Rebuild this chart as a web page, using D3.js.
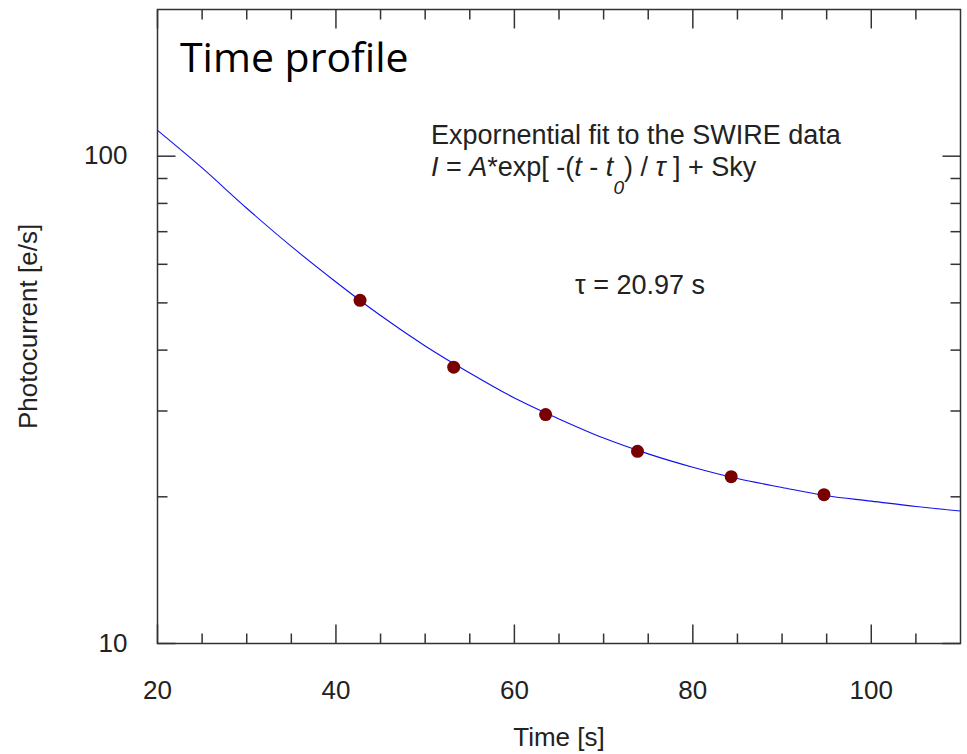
<!DOCTYPE html>
<html>
<head>
<meta charset="utf-8">
<script src="https://cdn.jsdelivr.net/npm/d3@7"></script>
<style>
  body { margin: 0; background: #fff; }
  text { font-family: "Liberation Sans", Arial, sans-serif; fill: #222; }
</style>
</head>
<body>
<svg id="chart" width="967" height="754"></svg>
<script>
// measured points (time [s], photocurrent [e/s])
const pointTimes = [42.7, 53.2, 63.5, 73.8, 84.3, 94.7];
const pointValues = [50.6, 36.9, 29.5, 24.8, 22.0, 20.2];

// fitted curve, every 5 s
const fitTimes = [20, 25, 30, 35, 40, 45, 50, 55, 60, 65, 70, 75, 80, 85, 90, 95, 100, 105, 110];
const fitValues = [113, 94.6, 78.2, 65.3, 55.2, 47.1, 40.8, 35.9, 31.9, 28.9, 26.4, 24.5, 23.0, 21.8, 20.9, 20.1, 19.6, 19.1, 18.7];

const xMajor = [20, 40, 60, 80, 100];
const xMinor = [25, 30, 35, 45, 50, 55, 65, 70, 75, 85, 90, 95, 105];
const yMajor = [10, 100];
const yMinor = [20, 30, 40, 50, 60, 70, 80, 90];

const margin = { top: 9.5, right: 6.5, bottom: 110.5, left: 157.5 };
const width = 967 - margin.left - margin.right,
    height = 754 - margin.top - margin.bottom;

const svg = d3.select("#chart");
const g = svg.append("g")
    .attr("transform", `translate(${margin.left}, ${margin.top})`);

const x = d3.scaleLinear().domain([20, 110]).range([0, width]);
const y = d3.scaleLog().domain([10, 200]).range([height, 0]);

// fit line
const line = d3.line()
    .x((d, i) => x(fitTimes[i]))
    .y(d => y(d))
    .curve(d3.curveMonotoneX);

g.append("path")
    .datum(fitValues)
    .attr("d", line)
    .attr("fill", "none")
    .attr("stroke", "#1010ee")
    .attr("stroke-width", 1.1);

g.selectAll("circle")
    .data(pointValues)
    .join("circle")
    .attr("cx", (d, i) => x(pointTimes[i]))
    .attr("cy", d => y(d))
    .attr("r", 6.5)
    .attr("fill", "#780000");

// ticks, all pointing inwards on four sides
const tickStyle = sel => sel.attr("stroke", "#333").attr("stroke-width", 1.5);
function xTicks(vals, len) {
    g.selectAll(null).data(vals).join("line")
        .attr("x1", d => x(d)).attr("x2", d => x(d))
        .attr("y1", height).attr("y2", height - len).call(tickStyle);
    g.selectAll(null).data(vals).join("line")
        .attr("x1", d => x(d)).attr("x2", d => x(d))
        .attr("y1", 0).attr("y2", len).call(tickStyle);
}
function yTicks(vals, len) {
    g.selectAll(null).data(vals).join("line")
        .attr("x1", 0).attr("x2", len)
        .attr("y1", d => y(d)).attr("y2", d => y(d)).call(tickStyle);
    g.selectAll(null).data(vals).join("line")
        .attr("x1", width).attr("x2", width - len)
        .attr("y1", d => y(d)).attr("y2", d => y(d)).call(tickStyle);
}
xTicks(xMajor, 19);
xTicks(xMinor, 10);
yTicks(yMajor, 18);
yTicks(yMinor, 10);

g.append("rect")
    .attr("width", width).attr("height", height)
    .attr("fill", "none").attr("stroke", "#333").attr("stroke-width", 1.5);

// tick labels
g.selectAll(null).data(xMajor).join("text")
    .attr("x", d => x(d)).attr("y", height + 55)
    .attr("text-anchor", "middle")
    .style("font-size", "26px")
    .text(d => d);

g.selectAll(null).data(yMajor).join("text")
    .attr("x", -30).attr("y", d => y(d) + 8)
    .attr("text-anchor", "end")
    .style("font-size", "26px")
    .text(d => d);

// axis titles
svg.append("text")
    .attr("x", margin.left + width / 2).attr("y", 746)
    .attr("text-anchor", "middle")
    .style("font-size", "26px")
    .text("Time [s]");

svg.append("text")
    .attr("transform", `translate(37, ${margin.top + height / 2}) rotate(-90)`)
    .attr("text-anchor", "middle")
    .style("font-size", "26px")
    .text("Photocurrent [e/s]");

// title and annotations
svg.append("text")
    .attr("x", 180).attr("y", 72)
    .style("font-family", "'Open Sans', sans-serif")
    .style("font-size", "41px")
    .style("fill", "#000")
    .text("Time profile");

svg.append("text")
    .attr("x", 431).attr("y", 144)
    .style("font-size", "27px")
    .text("Expornential fit to the SWIRE data");

const eq = svg.append("text")
    .attr("x", 431).attr("y", 176)
    .style("font-size", "27px");
eq.append("tspan").style("font-style", "italic").text("I");
eq.append("tspan").text(" = ");
eq.append("tspan").style("font-style", "italic").text("A");
eq.append("tspan").text("*exp[ -(");
eq.append("tspan").style("font-style", "italic").text("t");
eq.append("tspan").text(" - ");
eq.append("tspan").style("font-style", "italic").text("t");
eq.append("tspan").style("font-style", "italic").style("font-size", "19px").attr("dy", 18).text("0");
eq.append("tspan").attr("dy", -18).text(") / ");
eq.append("tspan").style("font-style", "italic").text("τ");
eq.append("tspan").text(" ] + Sky");

svg.append("text")
    .attr("x", 575).attr("y", 294)
    .style("font-size", "27px")
    .text("τ = 20.97 s");
</script>
</body>
</html>
